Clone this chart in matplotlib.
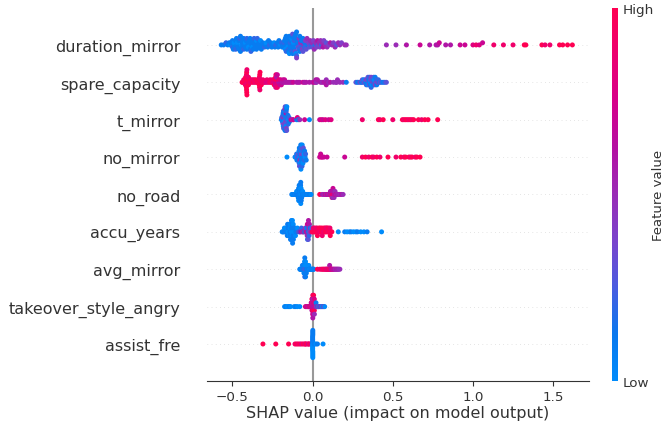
import numpy as np
import matplotlib
matplotlib.use("Agg")
import matplotlib.pyplot as plt
from matplotlib.colors import LinearSegmentedColormap, Normalize
from matplotlib.cm import ScalarMappable

# feature names, top to bottom
features = ["duration_mirror", "spare_capacity", "t_mirror", "no_mirror", "no_road",
            "accu_years", "avg_mirror", "takeover_style_angry", "assist_fre"]

# SHAP values per sample, and feature value level (0 = low ... 10 = high)
dm_shap = [-0.57, -0.555, -0.54, -0.53, -0.52, -0.515, -0.51, -0.50, -0.50, -0.495,
           -0.49, -0.49, -0.485, -0.48, -0.48, -0.475, -0.47, -0.47, -0.465, -0.46,
           -0.46, -0.455, -0.45, -0.45, -0.445, -0.44, -0.44, -0.435, -0.43, -0.43,
           -0.425, -0.42, -0.42, -0.415, -0.41, -0.41, -0.405, -0.40, -0.40, -0.395,
           -0.39, -0.39, -0.385, -0.38, -0.38, -0.375, -0.37, -0.37, -0.365, -0.36,
           -0.36, -0.355, -0.35, -0.35, -0.345, -0.34, -0.335, -0.33, -0.325, -0.32,
           -0.315, -0.31, -0.30, -0.295, -0.29, -0.28, -0.275, -0.27, -0.26, -0.255,
           -0.25, -0.24, -0.235, -0.23, -0.22, -0.215, -0.21, -0.20, -0.195, -0.19,
           -0.185, -0.18, -0.18, -0.175, -0.17, -0.17, -0.165, -0.165, -0.16, -0.16,
           -0.155, -0.155, -0.15, -0.15, -0.15, -0.145, -0.145, -0.14, -0.14, -0.14,
           -0.135, -0.135, -0.13, -0.13, -0.13, -0.125, -0.125, -0.12, -0.12, -0.12,
           -0.115, -0.115, -0.11, -0.11, -0.11, -0.105, -0.105, -0.10, -0.10, -0.10,
           -0.095, -0.095, -0.09, -0.09, -0.085, -0.085, -0.08, -0.08, -0.075, -0.075,
           -0.07, -0.07, -0.065, -0.06, -0.06, -0.055, -0.05, -0.05, -0.045, -0.04,
           -0.035, -0.03, -0.025, -0.02, -0.015, -0.01,
           -0.005, 0.0, 0.005, 0.01, 0.015, 0.02, 0.025, 0.03, 0.035, 0.04,
           0.045, 0.05, 0.055, 0.06, 0.065, 0.07, 0.08, 0.085, 0.09, 0.10,
           0.11, 0.12, 0.13, 0.14, 0.15, 0.16, 0.17, 0.18, 0.20, 0.21,
           0.46, 0.52, 0.585, 0.67, 0.73, 0.77, 0.78, 0.79, 0.83, 0.86,
           0.92, 0.95, 1.00, 1.02, 1.04, 1.06, 1.13, 1.19, 1.25, 1.32,
           1.33, 1.43, 1.45, 1.48, 1.54, 1.56, 1.59, 1.62]
dm_feat = [1, 1, 2, 1, 1, 0, 1, 2, 1, 1, 1, 0, 1, 1, 2, 1, 1, 0, 1, 1,
           1, 2, 1, 1, 0, 1, 1, 1, 2, 1, 1, 0, 1, 1, 1, 2, 1, 1, 0, 1,
           1, 1, 2, 1, 1, 0, 1, 1, 2, 1, 1, 1, 0, 1, 2, 1, 1, 1, 0, 1,
           1, 1, 2, 1, 0, 1, 1, 2, 1, 1, 1, 0, 1, 2, 1, 1, 1, 0, 2, 1,
           1, 2, 1, 1, 0, 1, 2, 1, 1, 1, 0, 1, 2, 1, 1, 1, 0, 1, 2, 1,
           1, 1, 0, 2, 1, 1, 3, 1, 0, 1, 2, 1, 1, 3, 1, 0, 1, 2, 1, 4,
           1, 1, 3, 1, 2, 4, 1, 1, 3, 5, 2, 1, 4, 1, 3, 5, 1, 2, 4, 3,
           5, 1, 4, 3, 5, 2,
           5, 3, 4, 5, 2, 5, 4, 6, 3, 5, 4, 5, 2, 5, 6, 4, 5, 3, 5, 4,
           6, 5, 4, 5, 3, 5, 5, 4, 5, 5,
           5, 5, 6, 7, 6, 6, 6, 7, 6, 6, 7, 7, 8, 9, 8, 7, 9, 9, 9, 10,
           10, 10, 9, 9, 10, 10, 10, 10]

sc_shap = [-0.44, -0.435, -0.43, -0.425, -0.42, -0.42, -0.418, -0.416, -0.415, -0.4145,
           -0.414, -0.413, -0.4125, -0.412, -0.4115, -0.411, -0.41, -0.41, -0.408, -0.405,
           -0.40, -0.40, -0.395, -0.39, -0.385, -0.38, -0.375, -0.37, -0.365, -0.36,
           -0.355, -0.35, -0.345, -0.34, -0.336, -0.334, -0.333, -0.332, -0.331, -0.330,
           -0.329, -0.328, -0.327, -0.325, -0.32, -0.315, -0.31,
           -0.305, -0.30, -0.29, -0.285, -0.28, -0.27,
           -0.265, -0.26, -0.255, -0.25, -0.245, -0.24, -0.24, -0.235, -0.233, -0.232,
           -0.231, -0.23, -0.229, -0.228, -0.227, -0.226, -0.225, -0.22, -0.22, -0.215,
           -0.21, -0.21, -0.205, -0.20, -0.20, -0.195, -0.19, -0.185, -0.18, -0.175,
           -0.17, -0.16, -0.15,
           -0.14, -0.13, -0.12, -0.10, -0.09, -0.08, -0.06, -0.05, -0.04, -0.02,
           0.0, 0.01, 0.02, 0.02, 0.025, 0.03, 0.05, 0.06, 0.07, 0.08,
           0.085, 0.085, 0.09, 0.10, 0.11, 0.13, 0.145, 0.15, 0.155, 0.17, 0.19,
           0.21,
           0.27, 0.28, 0.29, 0.30, 0.305, 0.31, 0.315, 0.32, 0.325, 0.33,
           0.33, 0.335, 0.34, 0.34, 0.345, 0.345, 0.35, 0.35, 0.355, 0.355,
           0.36, 0.36, 0.36, 0.365, 0.365, 0.37, 0.37, 0.37, 0.375, 0.375,
           0.38, 0.38, 0.385, 0.385, 0.39, 0.39, 0.395, 0.40, 0.40, 0.405,
           0.41, 0.415, 0.42, 0.43, 0.44, 0.45, 0.46]
sc_feat = [10, 10, 9, 10, 10, 9, 10, 10, 10, 9, 10, 10, 9, 10, 10, 10, 9, 10, 9, 10,
           10, 9, 10, 9, 10, 9, 9, 10, 9, 9,
           10, 9, 10, 10, 9, 10, 10, 9, 10, 10, 9, 10, 10, 9, 10, 9, 9,
           9, 9, 8, 9, 8, 9,
           9, 10, 9, 9, 8, 9, 10, 8, 9, 7, 10, 8, 9, 7, 10, 8, 6,
           9, 7, 8, 6, 9, 7, 6, 8, 7, 6, 7, 6, 7, 6, 6, 6,
           6, 6, 7, 6, 6, 6, 7, 6, 6, 6, 6, 7, 6, 6, 5, 6, 6, 5, 6, 6,
           5, 6, 6, 5, 6, 5, 5, 5, 5, 5, 5,
           1,
           3, 1, 2, 4, 1, 3, 2, 0, 4, 1, 3, 2, 1, 4, 0, 3, 2, 1, 4, 2,
           0, 3, 1, 4, 2, 1, 3, 0, 4, 2, 1, 3, 2, 0, 4, 1, 3, 2, 1, 4,
           2, 1, 3, 2, 1, 2, 3]

tm_shap = [-0.195, -0.192, -0.19, -0.19, -0.188, -0.186, -0.185, -0.184, -0.183, -0.182,
           -0.181, -0.18, -0.18, -0.179, -0.178, -0.177, -0.176, -0.175, -0.175, -0.174,
           -0.173, -0.172, -0.171, -0.17, -0.17, -0.169, -0.168, -0.167, -0.166, -0.165,
           -0.165, -0.164, -0.163, -0.162, -0.161, -0.16, -0.158, -0.156, -0.154, -0.152,
           -0.15, -0.147, -0.145,
           -0.135, -0.125, -0.12, -0.10, -0.095, -0.09, -0.08, -0.05, -0.02,
           0.044, 0.055, 0.065, 0.08, 0.10, 0.115,
           0.31, 0.41, 0.42, 0.44, 0.50, 0.56, 0.57, 0.58, 0.59, 0.60,
           0.61, 0.62, 0.63, 0.66, 0.68, 0.70, 0.72, 0.78]
tm_feat = [1, 2, 0, 3, 1, 2, 4, 1, 0, 2, 3, 1, 5, 0, 2, 4, 1, 3, 0, 2,
           5, 1, 3, 0, 2, 4, 1, 3, 6, 0, 2, 4, 1, 3, 0, 2, 1, 3, 1, 2,
           0, 2, 1,
           7, 5, 7, 1, 8, 1, 5, 7, 0,
           7, 8, 7, 8, 7, 8,
           9, 10, 9, 10, 9, 10, 9, 10, 10, 9, 10, 9, 10, 10, 9, 10, 10, 10]

nm_shap = [-0.16,
           -0.11, -0.105, -0.10, -0.098, -0.095, -0.093, -0.09, -0.088, -0.087, -0.086,
           -0.085, -0.084, -0.083, -0.082, -0.081, -0.08, -0.079, -0.078, -0.077, -0.076,
           -0.075, -0.074, -0.073, -0.072, -0.071, -0.07, -0.069, -0.068, -0.067, -0.066,
           -0.065, -0.064, -0.063, -0.062, -0.061, -0.06, -0.058, -0.056, -0.054, -0.052,
           -0.05, -0.047, -0.044, -0.04,
           0.044, 0.05, 0.055, 0.06, 0.07, 0.09, 0.20,
           0.31, 0.33, 0.35, 0.37, 0.38, 0.40, 0.42, 0.47, 0.52, 0.55,
           0.57, 0.58, 0.60, 0.61, 0.62, 0.64, 0.65, 0.67]
nm_feat = [0,
           1, 0, 2, 1, 3, 0, 1, 2, 4, 1, 0, 2, 1, 3, 0, 1, 5, 2, 0, 1,
           3, 1, 0, 2, 4, 1, 0, 1, 3, 2, 0, 1, 4, 1, 2, 0, 3, 1, 0, 2,
           1, 0, 2, 1,
           7, 7, 8, 7, 7, 7, 7,
           9, 10, 9, 10, 9, 10, 9, 10, 9, 10, 9, 10, 10, 9, 10, 9, 10, 10]

nr_shap = [-0.13, -0.125, -0.12, -0.116, -0.112, -0.108, -0.105, -0.102, -0.10, -0.098,
           -0.096, -0.094, -0.092, -0.091, -0.09, -0.089,
           -0.088, -0.088, -0.087, -0.087, -0.086, -0.086, -0.085, -0.085, -0.084, -0.084,
           -0.083, -0.083, -0.082, -0.082, -0.081, -0.081, -0.08, -0.08, -0.079, -0.079,
           -0.078, -0.078, -0.077, -0.077, -0.076, -0.076, -0.075, -0.075, -0.074, -0.074,
           -0.073, -0.073, -0.072, -0.072,
           -0.071, -0.07, -0.069, -0.068, -0.066, -0.064, -0.062, -0.06, -0.057, -0.054,
           -0.05, -0.046, -0.042, -0.038, -0.034, -0.03, -0.025, -0.02, -0.015, -0.01,
           0.044, 0.06, 0.07, 0.078, 0.085, 0.09, 0.095, 0.10, 0.103, 0.106,
           0.109, 0.111, 0.113, 0.115, 0.117, 0.119, 0.12, 0.121, 0.122, 0.123,
           0.124, 0.125, 0.125, 0.126, 0.127, 0.128, 0.129, 0.13, 0.131, 0.132,
           0.134, 0.136, 0.138, 0.14, 0.143, 0.146, 0.15, 0.155, 0.16, 0.165,
           0.17, 0.18, 0.19]
nr_feat = [1, 0, 1, 0, 1, 1, 0, 1, 0, 1, 1, 0, 1, 1, 0, 1,
           0, 1, 1, 0, 1, 0, 1, 1, 0, 1, 0, 1, 1, 0, 1, 0, 1, 1, 0, 1,
           0, 1, 1, 0, 1, 0, 1, 1, 0, 1, 0, 1, 1, 0,
           1, 0, 1, 1, 0, 1, 0, 1, 1, 0, 1, 0, 1, 1, 0, 1, 0, 1, 1, 0,
           10, 6, 5, 7, 5, 6, 8, 5, 6, 5, 7, 6, 9, 5, 6, 8, 5, 10, 6, 7,
           5, 9, 6, 5, 7, 10, 6, 5, 8, 6, 5, 7, 6, 5, 6, 7, 5, 6, 5, 6,
           5, 6, 5]

ay_shap = [-0.19, -0.185, -0.18, -0.176, -0.172, -0.168, -0.165, -0.162, -0.16, -0.158,
           -0.156, -0.154, -0.152, -0.15, -0.148, -0.146, -0.145, -0.144, -0.142, -0.141,
           -0.14, -0.139, -0.138, -0.137, -0.136, -0.135, -0.134, -0.133, -0.132, -0.131,
           -0.13, -0.129, -0.128, -0.127, -0.126, -0.125, -0.124, -0.123, -0.122, -0.121,
           -0.12, -0.118, -0.116, -0.114, -0.112, -0.11, -0.107, -0.104, -0.10, -0.095,
           -0.085, -0.08, -0.075, -0.07, -0.065, -0.06, -0.055, -0.05, -0.046, -0.042,
           -0.04, -0.038, -0.036, -0.034, -0.033, -0.032, -0.031, -0.03, -0.029, -0.028,
           -0.027, -0.026, -0.025, -0.024, -0.022, -0.02, -0.018, -0.015, -0.012, -0.008,
           -0.004, 0.0, 0.005, 0.008, 0.01, 0.015, 0.018, 0.02, 0.025, 0.028,
           0.03, 0.035, 0.038, 0.04, 0.045, 0.048, 0.05, 0.055, 0.058, 0.06,
           0.065, 0.068, 0.07, 0.075, 0.078, 0.08, 0.085, 0.088, 0.09, 0.095,
           0.098, 0.10, 0.105, 0.108, 0.11, 0.115, 0.12,
           0.16, 0.20, 0.215, 0.23, 0.24, 0.255, 0.27, 0.28, 0.30, 0.32, 0.34, 0.43]
ay_feat = [1, 0, 1, 0, 1, 1, 0, 1, 0, 1, 1, 0, 1, 1, 0, 1, 0, 1, 1, 0,
           1, 0, 1, 1, 0, 1, 0, 1, 1, 0, 1, 0, 1, 1, 0, 1, 0, 1, 1, 0,
           1, 0, 1, 1, 0, 1, 0, 1, 1, 0,
           5, 1, 6, 2, 6, 4, 7, 1, 5, 7, 3, 6, 1, 5, 7, 2, 6, 1, 5, 7,
           3, 6, 1, 5, 2, 6, 4, 1, 5, 3,
           9, 10, 9, 10, 9, 10, 10, 9, 10, 9, 10, 9, 10, 10, 9, 10, 9, 10, 10, 9,
           10, 9, 10, 9, 10, 10, 9, 10, 9, 10, 10, 9, 10, 9, 10, 9, 10,
           0, 1, 0, 0, 1, 0, 0, 1, 0, 0, 1, 0]

am_shap = [-0.08, -0.077, -0.074, -0.071, -0.068, -0.066, -0.064, -0.062, -0.06, -0.059,
           -0.058, -0.057, -0.056, -0.055, -0.054, -0.053, -0.052, -0.052, -0.051, -0.051,
           -0.05, -0.05, -0.049, -0.049, -0.048, -0.048, -0.047, -0.047, -0.046, -0.046,
           -0.045, -0.045, -0.044, -0.043, -0.042, -0.041, -0.04, -0.039, -0.038, -0.037,
           -0.036, -0.034, -0.032, -0.03, -0.028, -0.026, -0.024, -0.022, -0.02, -0.018,
           -0.015, -0.012, -0.009, -0.006, -0.003, 0.0, 0.004, 0.008,
           0.03, 0.045, 0.055, 0.062, 0.068, 0.074, 0.08, 0.084, 0.088, 0.091,
           0.094, 0.097, 0.10, 0.102, 0.104, 0.106, 0.108, 0.11, 0.113, 0.116,
           0.12, 0.124, 0.128, 0.133, 0.138, 0.143, 0.148, 0.153, 0.158, 0.163, 0.17]
am_feat = [1, 0, 1, 0, 1, 1, 0, 1, 0, 3, 1, 0, 1, 1, 0, 4, 0, 1, 1, 0,
           1, 0, 2, 1, 0, 1, 0, 1, 4, 0, 1, 0, 1, 1, 0, 3, 0, 1, 1, 0,
           1, 0, 1, 1, 0, 1, 0, 1, 1, 0, 1, 0, 1, 1, 0, 1, 0, 1,
           10, 9, 10, 8, 10, 9, 10, 7, 10, 9, 8, 10, 7, 9, 10, 6, 9, 7, 10, 6,
           8, 7, 6, 7, 6, 5, 6, 5, 6, 5, 5]

ta_shap = [-0.175, -0.168, -0.16, -0.152, -0.145, -0.138, -0.115, -0.105, -0.095, -0.08,
           -0.045, -0.04, -0.035, -0.03, -0.027, -0.024, -0.021, -0.018, -0.015, -0.013,
           -0.011, -0.009, -0.007, -0.005, -0.005, -0.004, -0.004, -0.003, -0.003, -0.002,
           -0.002, -0.001, -0.001, 0.0, 0.0, 0.0, 0.001, 0.001, 0.002, 0.002,
           0.003, 0.003, 0.004, 0.004, 0.005, 0.005, 0.006, 0.006, 0.007, 0.007,
           0.008, 0.008, 0.009, 0.009, 0.01, 0.01, 0.011, 0.012, 0.013, 0.015,
           0.017, 0.019, 0.021, 0.023, 0.025, 0.028, 0.031, 0.034, 0.037, 0.04,
           0.045, 0.05, 0.055, 0.06, 0.065, 0.07, 0.075]
ta_feat = [0, 1, 0, 0, 1, 0, 0, 1, 0, 0,
           8, 6, 9, 7, 5, 8, 6, 9, 7, 10, 6, 8, 5, 9, 7, 6, 10, 8, 5, 7,
           9, 6, 8, 10, 5, 7, 9, 6, 8, 5, 10, 7, 6, 9, 8, 5, 7, 10, 6, 8,
           9, 5, 7, 6, 10, 8, 5, 7, 9, 6, 5, 8, 1, 6, 5, 0, 7, 1, 5, 0,
           6, 1, 5, 0, 1, 5, 0]

af_shap = [-0.31, -0.23, -0.15, -0.11, -0.10, -0.09, -0.08, -0.07, -0.06, -0.05,
           -0.045, -0.04, -0.03, -0.025, -0.02, -0.01,
           0.00, 0.00, 0.00, 0.00, 0.00, 0.00, 0.00, 0.00, 0.00, 0.00,
           0.001, 0.001, 0.001, 0.001, 0.001, 0.001, 0.001, 0.001, 0.001,
           0.005, 0.01, 0.02, 0.03, 0.065]
af_feat = [10, 10, 10, 9, 10, 9, 10, 8, 10, 9, 8, 10, 9, 7, 10, 8,
           0, 1, 0, 1, 0, 1, 0, 1, 0, 1, 0, 1, 0, 1, 0, 1, 0, 1, 0,
           0, 1, 0, 1, 0]

shap_rows = [dm_shap, sc_shap, tm_shap, nm_shap, nr_shap, ay_shap, am_shap, ta_shap, af_shap]
feat_rows = [dm_feat, sc_feat, tm_feat, nm_feat, nr_feat, ay_feat, am_feat, ta_feat, af_feat]

cmap = LinearSegmentedColormap.from_list(
    "shap_red_blue",
    ["#008bfb", "#0a78ee", "#4a5ce0", "#7a44cc", "#9a2cb6", "#b410a2", "#d6008a", "#ec0070", "#ff0052"])


def swarm_offsets(values, row_height=0.45, nbins=100):
    # same binning idea as shap's beeswarm
    v = np.asarray(values, dtype=float)
    quant = np.round(nbins * (v - v.min()) / (v.max() - v.min() + 1e-8))
    inds = np.argsort(quant, kind="stable")
    ys = np.zeros(len(v))
    layer = 0
    last_bin = -1
    for ind in inds:
        if quant[ind] != last_bin:
            layer = 0
        ys[ind] = np.ceil(layer / 2) * ((layer % 2) * 2 - 1)
        layer += 1
        last_bin = quant[ind]
    ys *= 0.9 * (row_height / np.max(ys + 1))
    return ys


fig = plt.figure(figsize=(6.65, 4.27), dpi=100)
ax = fig.add_axes([0.311, 0.1045, 0.575, 0.8755])

n = len(features)
ax.axvline(x=0, color="#999999", zorder=-1)
for i, (sv, fv) in enumerate(zip(shap_rows, feat_rows)):
    pos = n - 1 - i
    ax.axhline(y=pos, color="#cccccc", lw=0.5, dashes=(1, 5), zorder=-1)
    ys = swarm_offsets(sv)
    ax.scatter(sv, pos + ys, c=fv, cmap=cmap, vmin=0, vmax=10, s=13,
               linewidth=0, alpha=1, zorder=3)

ax.set_yticks(range(n))
ax.set_yticklabels(features[::-1], fontsize=11.5)
ax.set_ylim(-1, n)
ax.set_xlim(-0.66, 1.725)
ax.tick_params("y", length=0, pad=19, labelcolor="#333333")
ax.tick_params("x", labelsize=9.7, pad=2.5, color="#333333", labelcolor="#333333")
ax.xaxis.set_ticks_position("bottom")
for side in ["right", "top", "left"]:
    ax.spines[side].set_visible(False)
ax.spines["bottom"].set_color("#333333")
ax.set_xlabel("SHAP value (impact on model output)", fontsize=11.5, color="#333333",
              labelpad=2)

cax = fig.add_axes([612 / 665, 0.1045, 6 / 665, 0.8755])
sm = ScalarMappable(norm=Normalize(0, 1), cmap=cmap)
cb = fig.colorbar(sm, cax=cax, ticks=[0, 1])
cb.set_ticklabels(["Low", "High"])
cb.ax.tick_params(labelsize=9.7, length=0, labelcolor="#333333")
cb.outline.set_visible(False)
fig.text(658 / 665, 0.543, "Feature value", rotation=90, ha="center", va="center",
         fontsize=9.5, color="#333333")

fig.savefig("out.png", dpi=100)
